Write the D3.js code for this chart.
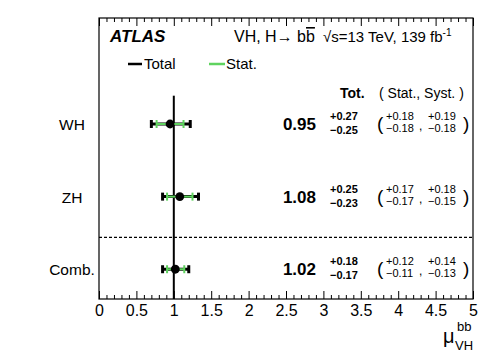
<!DOCTYPE html>
<html>
<head>
<meta charset="utf-8">
<script src="https://cdn.jsdelivr.net/npm/d3@7"></script>
<style>
  body { margin: 0; background: #fff; }
  text { font-family: "Liberation Sans", Arial, sans-serif; }
</style>
</head>
<body>
<div id="chart"></div>
<script>
var categories = ["WH", "ZH", "Comb."];
var rowPos = [2.5, 1.5, 0.5];
var mu = [0.95, 1.08, 1.02];
var totUp = [0.27, 0.25, 0.18];
var totDown = [0.25, 0.23, 0.17];
var statUp = [0.18, 0.17, 0.12];
var statDown = [0.18, 0.17, 0.11];
var systUp = [0.19, 0.18, 0.14];
var systDown = [0.18, 0.15, 0.13];
var xTicks = [0, 0.5, 1, 1.5, 2, 2.5, 3, 3.5, 4, 4.5, 5];
var separatorPos = 0.94;
var smLineTop = 2.89;

var margin = { top: 18, right: 25, bottom: 59, left: 99 },
  width = 498 - margin.left - margin.right,
  height = 358 - margin.top - margin.bottom;

var svg = d3.select("#chart")
  .append("svg")
  .attr("width", 498)
  .attr("height", 358);

var g = svg.append("g")
  .attr("transform", "translate(" + margin.left + "," + margin.top + ")");

var x = d3.scaleLinear().domain([0, 5]).range([0, width]);
var y = d3.scaleLinear().domain([0.09, 3.96]).range([height, 0]);

var minorTicks = d3.range(0, 5.001, 0.1).map(function(d) { return +d.toFixed(1); })
  .filter(function(d) { return xTicks.indexOf(d) < 0; });

function styleAxis(sel) {
  sel.select(".domain").remove();
  sel.selectAll("line").attr("stroke", "#000").attr("stroke-width", 1);
}

// bottom axis, ticks pointing inwards
g.append("g")
  .attr("transform", "translate(0," + height + ")")
  .call(d3.axisBottom(x).tickValues(xTicks).tickSize(-8).tickPadding(6)
    .tickFormat(function(d) { return String(d); }))
  .call(styleAxis)
  .selectAll("text")
  .attr("font-size", 16)
  .attr("fill", "#000");
g.append("g")
  .attr("transform", "translate(0," + height + ")")
  .call(d3.axisBottom(x).tickValues(minorTicks).tickSize(-4).tickFormat(""))
  .call(styleAxis);

// top axis
g.append("g")
  .call(d3.axisTop(x).tickValues(xTicks).tickSize(-8).tickFormat(""))
  .call(styleAxis);
g.append("g")
  .call(d3.axisTop(x).tickValues(minorTicks).tickSize(-4).tickFormat(""))
  .call(styleAxis);

// frame
g.append("rect")
  .attr("width", width)
  .attr("height", height)
  .attr("fill", "none")
  .attr("stroke", "#000")
  .attr("stroke-width", 1.2);

// SM line at mu = 1
g.append("line")
  .attr("x1", x(1)).attr("x2", x(1))
  .attr("y1", y(smLineTop)).attr("y2", height)
  .attr("stroke", "#000")
  .attr("stroke-width", 2);

// dashed separator
g.append("line")
  .attr("x1", 0).attr("x2", width)
  .attr("y1", y(separatorPos)).attr("y2", y(separatorPos))
  .attr("stroke", "#000")
  .attr("stroke-width", 1.3)
  .attr("stroke-dasharray", "3,2");

var rows = categories.map(function(c, i) {
  return {
    name: c, pos: rowPos[i], mu: mu[i],
    totUp: totUp[i], totDown: totDown[i],
    statUp: statUp[i], statDown: statDown[i],
    systUp: systUp[i], systDown: systDown[i]
  };
});

var row = g.selectAll(".row")
  .data(rows)
  .enter().append("g")
  .attr("class", "row");

function errorBar(sel, lo, hi, color, lw, capW) {
  sel.append("line")
    .attr("x1", function(d) { return x(lo(d)); })
    .attr("x2", function(d) { return x(hi(d)); })
    .attr("y1", function(d) { return y(d.pos); })
    .attr("y2", function(d) { return y(d.pos); })
    .attr("stroke", color).attr("stroke-width", lw);
  [lo, hi].forEach(function(f) {
    sel.append("line")
      .attr("x1", function(d) { return x(f(d)); })
      .attr("x2", function(d) { return x(f(d)); })
      .attr("y1", function(d) { return y(d.pos) - 4; })
      .attr("y2", function(d) { return y(d.pos) + 4; })
      .attr("stroke", color).attr("stroke-width", capW);
  });
}

errorBar(row,
  function(d) { return d.mu - d.totDown; },
  function(d) { return d.mu + d.totUp; }, "#000", 3, 3);
errorBar(row,
  function(d) { return d.mu - d.statDown; },
  function(d) { return d.mu + d.statUp; }, "#5fd35f", 2, 2);

row.append("circle")
  .attr("cx", function(d) { return x(d.mu); })
  .attr("cy", function(d) { return y(d.pos); })
  .attr("r", 4.4)
  .attr("fill", "#000");

// labels on the left
row.append("text")
  .attr("x", 72 - margin.left)
  .attr("y", function(d) { return y(d.pos) + 6; })
  .attr("text-anchor", "middle")
  .attr("font-size", 15.5)
  .text(function(d) { return d.name; });

function fmt(v) { return v.toFixed(2); }

// numbers column
row.append("text")
  .attr("x", 316 - margin.left)
  .attr("y", function(d) { return y(d.pos) + 6; })
  .attr("text-anchor", "end")
  .attr("font-size", 17)
  .attr("font-weight", "bold")
  .text(function(d) { return fmt(d.mu); });

row.append("text")
  .attr("x", 330 - margin.left)
  .attr("y", function(d) { return y(d.pos) - 4; })
  .attr("font-size", 11)
  .attr("font-weight", "bold")
  .text(function(d) { return "+" + fmt(d.totUp); });
row.append("text")
  .attr("x", 330 - margin.left)
  .attr("y", function(d) { return y(d.pos) + 10; })
  .attr("font-size", 11)
  .attr("font-weight", "bold")
  .text(function(d) { return "\u2212" + fmt(d.totDown); });

row.append("text")
  .attr("x", 377 - margin.left)
  .attr("y", function(d) { return y(d.pos) + 6; })
  .attr("font-size", 19)
  .attr("font-weight", "300")
  .text("(");
row.append("text")
  .attr("x", 463 - margin.left)
  .attr("y", function(d) { return y(d.pos) + 6; })
  .attr("font-size", 19)
  .text(")");
row.append("text")
  .attr("x", 419 - margin.left)
  .attr("y", function(d) { return y(d.pos) + 6; })
  .attr("font-size", 12)
  .text(",");

[[386, "statUp", "statDown"], [428, "systUp", "systDown"]].forEach(function(c) {
  row.append("text")
    .attr("x", c[0] - margin.left)
    .attr("y", function(d) { return y(d.pos) - 4; })
    .attr("font-size", 11)
    .text(function(d) { return "+" + fmt(d[c[1]]); });
  row.append("text")
    .attr("x", c[0] - margin.left)
    .attr("y", function(d) { return y(d.pos) + 8; })
    .attr("font-size", 11)
    .text(function(d) { return "\u2212" + fmt(d[c[2]]); });
});

// header texts
svg.append("text")
  .attr("x", 110).attr("y", 42)
  .attr("font-size", 17)
  .attr("font-weight", "bold")
  .attr("font-style", "italic")
  .text("ATLAS");

var proc = svg.append("text")
  .attr("x", 234).attr("y", 42)
  .attr("font-size", 16);
proc.append("tspan").text("VH, H\u2192 b");
proc.append("tspan").attr("text-decoration", "overline").text("b");

var lumi = svg.append("text")
  .attr("x", 323).attr("y", 42)
  .attr("font-size", 15);
lumi.append("tspan").text("\u221As=13 TeV, 139 fb");
lumi.append("tspan").attr("dy", -6).attr("font-size", 10).text("-1");

// legend
svg.append("line")
  .attr("x1", 128).attr("x2", 142).attr("y1", 64).attr("y2", 64)
  .attr("stroke", "#000").attr("stroke-width", 2.5);
svg.append("text")
  .attr("x", 144).attr("y", 69)
  .attr("font-size", 15)
  .text("Total");
svg.append("line")
  .attr("x1", 209).attr("x2", 225).attr("y1", 64).attr("y2", 64)
  .attr("stroke", "#5fd35f").attr("stroke-width", 2.5);
svg.append("text")
  .attr("x", 226).attr("y", 69)
  .attr("font-size", 15)
  .text("Stat.");

svg.append("text")
  .attr("x", 340).attr("y", 98)
  .attr("font-size", 14)
  .attr("font-weight", "bold")
  .text("Tot.");
svg.append("text")
  .attr("x", 379).attr("y", 98)
  .attr("font-size", 14)
  .attr("xml:space", "preserve")
  .text("( Stat., Syst. )");

// x axis title
var xt = svg.append("text")
  .attr("x", 443).attr("y", 343)
  .attr("font-size", 20);
xt.append("tspan").text("\u03BC");
xt.append("tspan").attr("x", 457).attr("y", 331).attr("font-size", 13).text("bb");
xt.append("tspan").attr("x", 455).attr("y", 350).attr("font-size", 13).text("VH");
</script>
</body>
</html>
